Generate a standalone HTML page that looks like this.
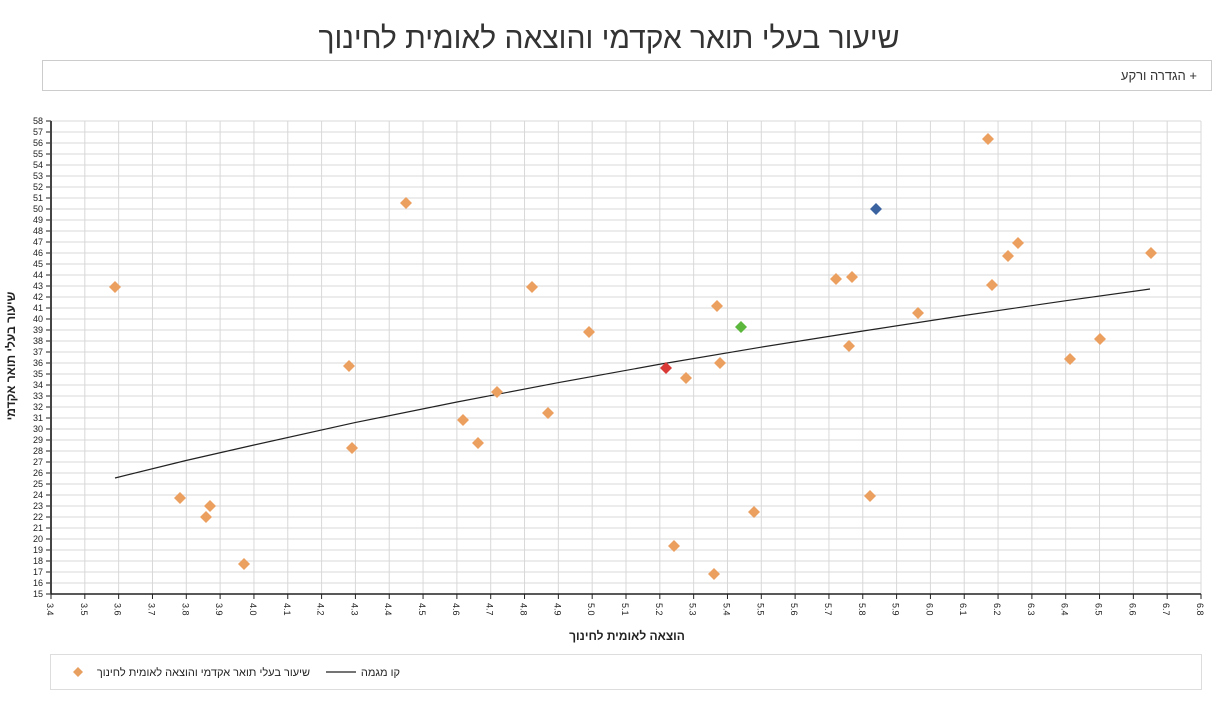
<!DOCTYPE html>
<html><head><meta charset="utf-8"><style>
body{margin:0;background:#fff;width:1218px;height:697px;overflow:hidden;font-family:"Liberation Sans","DejaVu Sans",sans-serif}
</style></head><body>
<svg id="s" width="1218" height="697" xmlns="http://www.w3.org/2000/svg" font-family="Liberation Sans, DejaVu Sans, sans-serif">
<text x="609" y="48" text-anchor="middle" font-size="30" fill="#333">שיעור בעלי תואר אקדמי והוצאה לאומית לחינוך</text>
<rect x="42.5" y="60.5" width="1169" height="30" fill="#fff" stroke="#ccc"/>
<text x="1197" y="80" text-anchor="end" font-size="13" fill="#333">הגדרה ורקע +</text>
<g id="grid"></g>
<polyline fill="none" stroke="#222" stroke-width="1.2" points="115,478 186,460.5 254,445 355,422.6 457,402 558,382.7 659,364.4 761,347.2 863,331 964,315.5 1066,300.7 1150,289"/>
<g id="pts"></g>
<text transform="translate(15,356) rotate(-90)" text-anchor="middle" font-size="12" font-weight="bold" fill="#222">שיעור בעלי תואר אקדמי</text>
<text x="627" y="640" text-anchor="middle" font-size="12" font-weight="bold" fill="#222">הוצאה לאומית לחינוך</text>
<rect x="50.5" y="654.5" width="1151" height="35" fill="#fff" stroke="#ddd"/>
<path d="M78 667 L83 672 L78 677 L73 672Z" fill="#e8a060"/>
<text x="310" y="676" text-anchor="end" font-size="11" fill="#222">שיעור בעלי תואר אקדמי והוצאה לאומית לחינוך</text>
<line x1="326" y1="672" x2="356" y2="672" stroke="#222" stroke-width="1.2"/>
<text x="400" y="676" text-anchor="end" font-size="11" fill="#222">קו מגמה</text>
</svg>
<script>
var ns="http://www.w3.org/2000/svg",g=document.getElementById('grid'),p=document.getElementById('pts');
function el(t,a,par,txt){var e=document.createElementNS(ns,t);for(var k in a)e.setAttribute(k,a[k]);if(txt)e.textContent=txt;par.appendChild(e);return e;}
var L=51,R=1201,T=121,B=594;
for(var i=0;i<=34;i++){var x=L+(R-L)*i/34;
 el('line',{x1:x,y1:T,x2:x,y2:B,stroke:'#d8d8d8'},g);
 el('line',{x1:x,y1:B,x2:x,y2:B+5,stroke:'#222'},g);
 el('text',{transform:'translate('+(x-4)+','+(B+9)+') rotate(90)','font-size':'9',fill:'#222'},g,(3.4+i*0.1).toFixed(1));}
for(var j=0;j<=43;j++){var y=B-(B-T)*j/43;
 el('line',{x1:L,y1:y,x2:R,y2:y,stroke:'#d8d8d8'},g);
 el('line',{x1:L-5,y1:y,x2:L,y2:y,stroke:'#222'},g);
 el('text',{x:L-8,y:y+3,'text-anchor':'end','font-size':'9',fill:'#222'},g,String(15+j));}
el('line',{x1:L,y1:T,x2:L,y2:B,stroke:'#444','stroke-width':2},g);
el('line',{x1:L,y1:B,x2:R,y2:B,stroke:'#222','stroke-width':1.5},g);
var pts=[[115,287],[180,498],[210,506],[206,517],[244,564],[349,366],[352,448],[406,203],[463,420],[478,443],[497,392],[532,287],[548,413],[589,332],[674,546],[686,378],[714,574],[717,306],[720,363],[754,512],[836,279],[852,277],[849,346],[870,496],[918,313],[988,139],[992,285],[1008,256],[1018,243],[1070,359],[1100,339],[1151,253]];
function d(x,y,c){el('path',{d:'M'+x+' '+(y-6)+' L'+(x+6)+' '+y+' L'+x+' '+(y+6)+' L'+(x-6)+' '+y+'Z',fill:c},p);}
pts.forEach(function(q){d(q[0],q[1],'#eba060');});
d(666,368,'#d93a35');d(741,327,'#5cb83c');d(876,209,'#3a63a0');
</script>
</body></html>
